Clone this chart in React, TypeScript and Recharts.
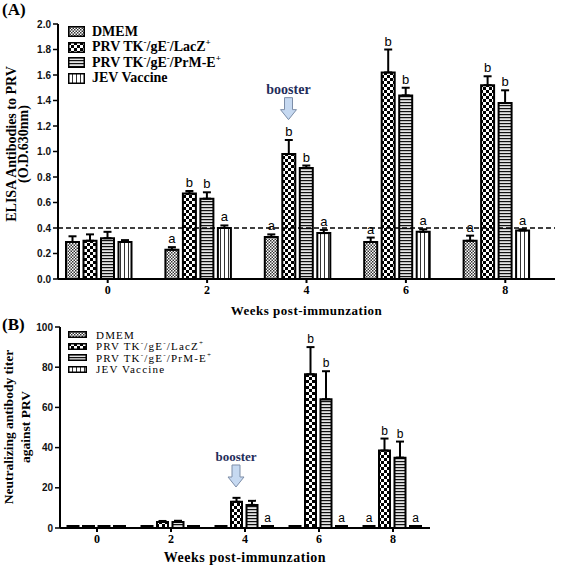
// ELISA / neutralizing antibody bar charts, two stacked panels (A) and (B)
import React from 'react';
import {
  BarChart,
  Bar,
  XAxis,
  YAxis,
  ErrorBar,
  LabelList,
  ReferenceLine,
  ReferenceDot,
} from 'recharts';

const weeks = ['0', '2', '4', '6', '8'];

// Panel A – ELISA O.D.630nm
const dmemA = [0.29, 0.23, 0.33, 0.29, 0.3];
const lacA = [0.3, 0.67, 0.98, 1.62, 1.52];
const prmA = [0.32, 0.63, 0.87, 1.44, 1.38];
const jevA = [0.29, 0.4, 0.36, 0.37, 0.38];
const dmemAErr = [0.045, 0.02, 0.02, 0.035, 0.04];
const lacAErr = [0.05, 0.02, 0.11, 0.18, 0.07];
const prmAErr = [0.05, 0.05, 0.02, 0.06, 0.1];
const jevAErr = [0.015, 0.02, 0.025, 0.02, 0.01];
const dmemALetters = ['', 'a', 'a', 'a', 'a'];
const lacALetters = ['', 'b', 'b', 'b', 'b'];
const prmALetters = ['', 'b', 'b', 'b', 'b'];
const jevALetters = ['', 'a', 'a', 'a', 'a'];
const yTicksA = [0, 0.2, 0.4, 0.6, 0.8, 1.0, 1.2, 1.4, 1.6, 1.8, 2.0];

// Panel B – neutralizing antibody titer
const dmemB = [1, 1, 1, 1, 1];
const lacB = [1, 3, 13, 76.5, 38.5];
const prmB = [1, 3, 11.5, 64, 35];
const jevB = [1, 1, 1, 1, 1];
const dmemBErr = [0, 0, 0, 0, 0];
const lacBErr = [0, 0.5, 2, 13.5, 6];
const prmBErr = [0, 0.6, 2, 14, 8];
const jevBErr = [0, 0, 0, 0, 0];
const dmemBLetters = ['', '', '', '', 'a'];
const lacBLetters = ['', '', '', 'b', 'b'];
const prmBLetters = ['', '', '', 'b', 'b'];
const jevBLetters = ['', '', 'a', 'a', 'a'];
const yTicksB = [0, 20, 40, 60, 80, 100];

const SERIF = "'Liberation Serif', 'Times New Roman', serif";
const SANS = "'Liberation Sans', Arial, sans-serif";

const dataA = weeks.map((w, i) => ({
  week: w,
  dmem: dmemA[i], lac: lacA[i], prm: prmA[i], jev: jevA[i],
  dmemErr: dmemAErr[i], lacErr: lacAErr[i], prmErr: prmAErr[i], jevErr: jevAErr[i],
}));

const dataB = weeks.map((w, i) => ({
  week: w,
  dmem: dmemB[i], lac: lacB[i], prm: prmB[i], jev: jevB[i],
  dmemErr: dmemBErr[i], lacErr: lacBErr[i], prmErr: prmBErr[i], jevErr: jevBErr[i],
}));

const Patterns = () => (
  <svg width={0} height={0} style={{ position: 'absolute' }}>
    <defs>
      <pattern id="patDmem" patternUnits="userSpaceOnUse" width={3} height={3}>
        <rect width={3} height={3} fill="#fff" />
        <rect x={0} y={0} width={1.5} height={1.5} fill="#333" />
        <rect x={1.5} y={1.5} width={1.5} height={1.5} fill="#333" />
      </pattern>
      <pattern id="patLac" patternUnits="userSpaceOnUse" width={6} height={6}>
        <rect width={6} height={6} fill="#fff" />
        <rect x={0} y={0} width={3} height={3} fill="#000" />
        <rect x={3} y={3} width={3} height={3} fill="#000" />
      </pattern>
      <pattern id="patPrm" patternUnits="userSpaceOnUse" width={4} height={3}>
        <rect width={4} height={3} fill="#e4e4e4" />
        <rect x={0} y={0} width={4} height={1.2} fill="#111" />
      </pattern>
      <pattern id="patJev" patternUnits="userSpaceOnUse" width={4} height={4}>
        <rect width={4} height={4} fill="#fff" />
        <rect x={0} y={0} width={1} height={4} fill="#333" />
      </pattern>
    </defs>
  </svg>
);

const letterLabel = (letters: string[], errs: number[], fontSize: number) => (props: any) => {
  const vb = props.viewBox ?? {};
  const x = vb.x ?? props.x;
  const y = vb.y ?? props.y;
  const w = vb.width ?? props.width;
  const h = vb.height ?? props.height;
  const i = props.index;
  const t = letters[i];
  if (!t) return null;
  const v = Number(props.value) || 0;
  const pxPerUnit = v ? h / v : 0;
  const top = y - errs[i] * pxPerUnit;
  return (
    <text x={x + w / 2} y={top - 4} textAnchor="middle" fontSize={fontSize} fontFamily={SANS} fill="#000">
      {t}
    </text>
  );
};

const Booster = ({ cx, cy, dx, fontSize }: any) => {
  if (cx == null || cy == null) return null;
  const x = cx + dx;
  return (
    <g>
      <text x={x} y={cy - 26} textAnchor="middle" fontFamily={SERIF} fontWeight="bold" fontSize={fontSize} fill="#1f2d5a">
        booster
      </text>
      <path
        d={`M ${x - 4} ${cy - 22} L ${x + 4} ${cy - 22} L ${x + 4} ${cy - 10} L ${x + 8} ${cy - 10} L ${x} ${cy} L ${x - 8} ${cy - 10} L ${x - 4} ${cy - 10} Z`}
        fill="#c6d9f1"
        stroke="#7d8ea8"
        strokeWidth={1}
      />
    </g>
  );
};

const seriesKeys = [
  { key: 'dmem', fill: 'url(#patDmem)' },
  { key: 'lac', fill: 'url(#patLac)' },
  { key: 'prm', fill: 'url(#patPrm)' },
  { key: 'jev', fill: 'url(#patJev)' },
];

const sup = { fontSize: '0.65em', lineHeight: 0 };
const legendItems = [
  { fill: 'url(#patDmem)', label: <>DMEM</> },
  { fill: 'url(#patLac)', label: <>PRV TK<sup style={sup}>-</sup>/gE<sup style={sup}>-</sup>/LacZ<sup style={sup}>+</sup></> },
  { fill: 'url(#patPrm)', label: <>PRV TK<sup style={sup}>-</sup>/gE<sup style={sup}>-</sup>/PrM-E<sup style={sup}>+</sup></> },
  { fill: 'url(#patJev)', label: <>JEV Vaccine</> },
];

const Legend = ({ left, top, rowH, boxW, boxH, gap, fontSize, bold, spacing }: any) => (
  <div style={{ position: 'absolute', left, top, fontFamily: SERIF, fontSize, fontWeight: bold ? 'bold' : 'normal', letterSpacing: spacing, color: '#000' }}>
    {legendItems.map((it, i) => (
      <div key={i} style={{ display: 'flex', alignItems: 'center', height: rowH, whiteSpace: 'nowrap' }}>
        <svg width={boxW} height={boxH} style={{ flex: 'none' }}>
          <rect x={0.75} y={0.75} width={boxW - 1.5} height={boxH - 1.5} fill={it.fill} stroke="#000" strokeWidth={1.5} />
        </svg>
        <span style={{ marginLeft: gap }}>{it.label}</span>
      </div>
    ))}
  </div>
);

const yLabel = (lines: string[], xs: number[], cy: number, fontSize: number) => () => (
  <g>
    {lines.map((l, i) => (
      <text key={i} x={xs[i]} y={cy} transform={`rotate(-90 ${xs[i]} ${cy})`} textAnchor="middle" dominantBaseline="middle" fontFamily={SERIF} fontWeight="bold" fontSize={fontSize} fill="#000">
        {l}
      </text>
    ))}
  </g>
);

const yTickStyle = { fill: '#111', fontSize: 10, fontWeight: 'bold' as const, fontFamily: SANS };
const xTickStyle = { fill: '#000', fontSize: 12, fontWeight: 'bold' as const, fontFamily: SERIF };
const axisLine = { stroke: '#000', strokeWidth: 2 };
const titleStyle = { position: 'absolute' as const, left: 2, fontFamily: SERIF, fontWeight: 'bold' as const, fontSize: 17, lineHeight: '18px' };

export default function App() {
  const lettersA = [dmemALetters, lacALetters, prmALetters, jevALetters];
  const errsA = [dmemAErr, lacAErr, prmAErr, jevAErr];
  const lettersB = [dmemBLetters, lacBLetters, prmBLetters, jevBLetters];
  const errsB = [dmemBErr, lacBErr, prmBErr, jevBErr];

  return (
    <div style={{ position: 'absolute', left: 0, top: 0, width: 567, height: 566, background: '#fff' }}>
      <Patterns />
      <div style={{ ...titleStyle, top: 1 }}>(A)</div>
      <div style={{ ...titleStyle, top: 316 }}>(B)</div>

      {/* Panel A */}
      <div style={{ position: 'absolute', left: 0, top: 0 }}>
        <BarChart width={567} height={320} data={dataA} margin={{ top: 24, right: 12, left: 0, bottom: 0 }} barCategoryGap={8} barGap={4.5}>
          <XAxis
            dataKey="week"
            height={41}
            tick={xTickStyle}
            tickSize={4}
            axisLine={axisLine}
            tickLine={{ stroke: '#000', strokeWidth: 2 }}
            label={{ value: 'Weeks  post-immunzation', position: 'insideBottom', offset: 5, fill: '#000', fontFamily: SERIF, fontWeight: 'bold', fontSize: 13, letterSpacing: 0.5, style: { whiteSpace: 'pre' } }}
          />
          <YAxis
            width={58}
            domain={[0, 2]}
            ticks={yTicksA}
            tickFormatter={(v: number) => v.toFixed(1)}
            tick={yTickStyle}
            tickSize={5}
            axisLine={axisLine}
            tickLine={{ stroke: '#000', strokeWidth: 1.5 }}
            label={yLabel(['ELISA Antibodies to PRV', '(O.D.630nm)'], [12.5, 25], 144, 14)}
          />
          <ReferenceLine y={0.4} stroke="#000" strokeWidth={1.5} strokeDasharray="5 3" />
          {seriesKeys.map((s, si) => (
            <Bar key={s.key} dataKey={s.key} fill={s.fill} stroke="#000" strokeWidth={2} isAnimationActive={false}>
              <ErrorBar dataKey={(d: any) => [0, d[`${s.key}Err`]]} width={4} stroke="#000" strokeWidth={2} direction="y" isAnimationActive={false} />
              <LabelList dataKey={s.key} content={letterLabel(lettersA[si], errsA[si], 13)} />
            </Bar>
          ))}
          {/* empty slot so the tick sits under the third bar of each group */}
          <Bar dataKey="slot" fill="none" isAnimationActive={false} legendType="none" />
          <ReferenceDot x="4" y={1.25} r={0} isFront shape={(p: any) => <Booster {...p} dx={-18} fontSize={14} />} />
        </BarChart>
      </div>
      <Legend left={68} top={24} rowH={15.5} boxW={17} boxH={11} gap={7} fontSize={14} bold spacing={0} />

      {/* Panel B */}
      <div style={{ position: 'absolute', left: 0, top: 320 }}>
        <BarChart width={567} height={246} data={dataB} margin={{ top: 7, right: 137, left: 0, bottom: 0 }} barCategoryGap={7.5} barGap={4.5}>
          <XAxis
            dataKey="week"
            height={38}
            tick={xTickStyle}
            tickSize={4}
            axisLine={axisLine}
            tickLine={{ stroke: '#000', strokeWidth: 2 }}
            label={{ value: 'Weeks  post-immunzation', position: 'insideBottom', offset: 4, fill: '#000', fontFamily: SERIF, fontWeight: 'bold', fontSize: 14, letterSpacing: 0.5, style: { whiteSpace: 'pre' } }}
          />
          <YAxis
            width={60}
            domain={[0, 100]}
            ticks={yTicksB}
            tick={yTickStyle}
            tickSize={5}
            axisLine={axisLine}
            tickLine={{ stroke: '#000', strokeWidth: 1.5 }}
            label={yLabel(['Neutralizing antibody titer', 'against PRV'], [10, 27], 107, 13.5)}
          />
          {seriesKeys.map((s, si) => (
            <Bar key={s.key} dataKey={s.key} fill={s.fill} stroke="#000" strokeWidth={2} isAnimationActive={false}>
              <ErrorBar dataKey={(d: any) => [0, d[`${s.key}Err`]]} width={4} stroke="#000" strokeWidth={2} direction="y" isAnimationActive={false} />
              <LabelList dataKey={s.key} content={letterLabel(lettersB[si], errsB[si], 12)} />
            </Bar>
          ))}
          <ReferenceDot x="4" y={20.4} r={0} isFront shape={(p: any) => <Booster {...p} dx={-9} fontSize={13} />} />
        </BarChart>
      </div>
      <Legend left={68} top={329} rowH={11.5} boxW={19} boxH={7} gap={9} fontSize={11} bold={false} spacing={1.2} />
    </div>
  );
}
